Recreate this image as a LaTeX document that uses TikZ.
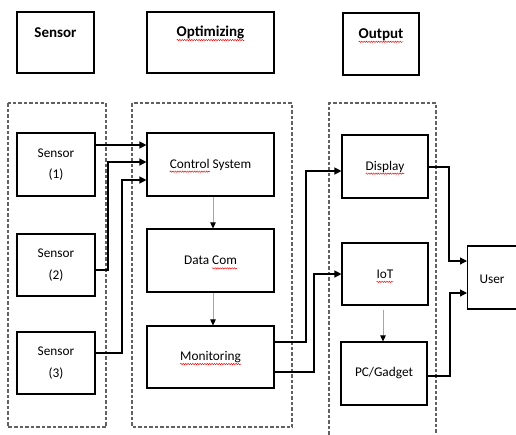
\documentclass[tikz,border=0pt]{standalone}
\usepackage{fontspec}
\setmainfont{Carlito}
\usetikzlibrary{arrows.meta,calc,decorations.pathmorphing}

% red wavy spell-check underline under a word
\newdimen\spellw
\newsavebox\spellbox
\newcommand\spellmark[1]{%
  \sbox\spellbox{#1}\spellw=\wd\spellbox
  \leavevmode\rlap{\tikz[overlay]\draw[red, line width=0.45pt, decorate,
      decoration={snake, amplitude=0.7pt, segment length=2.4pt}]
      (0pt,-3.6pt) -- (\spellw,-3.6pt);}%
  \usebox\spellbox}

\begin{document}
\begin{tikzpicture}[x=1pt,y=-1pt,
  box/.style={draw, line width=1.1pt, inner sep=0pt, align=center,
              font=\fontsize{13.3}{21.5}\selectfont},
  head/.style={inner sep=0pt, font=\fontsize{15}{18}\selectfont\bfseries},
  group/.style={draw=black!62, line width=1.3pt, dash pattern=on 3.5pt off 2pt},
  link/.style={line width=1.2pt, -{Triangle[length=7pt,width=7pt]}},
  flow/.style={draw=black!35, line width=0.8pt,
               -{Triangle[length=6pt,width=5.5pt,color=black]}}]
\useasboundingbox[fill=white] (0,0) rectangle (516,434);

% header boxes
\node[box, minimum width=77pt, minimum height=61pt] (hs) at (55.5,42.5) {};
\node[head] (hst) at ($(hs.north)+(0,21)$) {Sensor};
\node[box, minimum width=127pt, minimum height=61pt] (ho) at (210.5,42.5) {};
\node[head] (hot) at ($(ho.north)+(0,21)$) {\spellmark{Optimizing}};
\node[box, minimum width=76pt, minimum height=62pt] (hout) at (381,44) {};
\node[head] (hout t) at ($(hout.north)+(0,22)$) {\spellmark{Output}};

% dashed groups
\draw[group] (8,103) rectangle (106,427);
\draw[group] (132,103) rectangle (292,427);
\draw[group] (329,440) -- (329,103) -- (436,103) -- (436,440);

% sensor column
\node[box, minimum width=78pt, minimum height=63pt] (s1) at (56,164.5) {Sensor\\(1)};
\node[box, minimum width=78pt, minimum height=62pt] (s2) at (56,265) {Sensor\\(2)};
\node[box, minimum width=78pt, minimum height=62pt] (s3) at (56,363) {Sensor\\(3)};

% optimizing column
\node[box, minimum width=127pt, minimum height=63pt] (cs) at (210.5,164.5) {\spellmark{Control} System};
\node[box, minimum width=127pt, minimum height=63pt] (dc) at (210.5,260.5) {Data \spellmark{Com}};
\node[box, minimum width=127pt, minimum height=62pt] (mon) at (210.5,357) {\spellmark{Monitoring}};

% output column
\node[box, minimum width=86pt, minimum height=63pt] (disp) at (385,166.5) {\spellmark{Display}};
\node[box, minimum width=86pt, minimum height=62pt] (iot) at (385,274) {\spellmark{IoT}};
\node[box, minimum width=86pt, minimum height=63pt] (pc) at (384,373.5) {PC/Gadget};

% user box, running past the right edge
\node[box, minimum width=70pt, minimum height=63pt, anchor=west] (user) at (467,277.5) {};
\node[inner sep=0pt, font=\fontsize{13.3}{16}\selectfont] (usert) at ($(user.west)+(25,2)$) {User};

% sensors into control system
\draw[link] (s1.east |- 0,145) -- (cs.west |- 0,145);
\draw[link] (s2.east |- 0,270) -- (108,270) |- (cs.west |- 0,162);
\draw[link] (s3.east |- 0,353) -- (122,353) |- (cs.west |- 0,180);

% internal flow
\draw[flow] (213,0 |- cs.south) -- (213,0 |- dc.north);
\draw[flow] (213,0 |- dc.south) -- (213,0 |- mon.north);
\draw[flow] ($(383,0 |- iot.south)+(0,4)$) -- (383,0 |- pc.north);

% monitoring to outputs
\draw[link] (mon.east |- 0,342) -- (306,342) |- (disp.west |- 0,171);
\draw[link] (mon.east |- 0,372) -- (314,372) |- (iot.west);

% outputs to user
\draw[link] (disp.east |- 0,167) -- (449,167) |- (user.west |- 0,261);
\draw[link] (pc.east |- 0,376) -- (450,376) |- (user.west |- 0,293);
\end{tikzpicture}
\end{document}
